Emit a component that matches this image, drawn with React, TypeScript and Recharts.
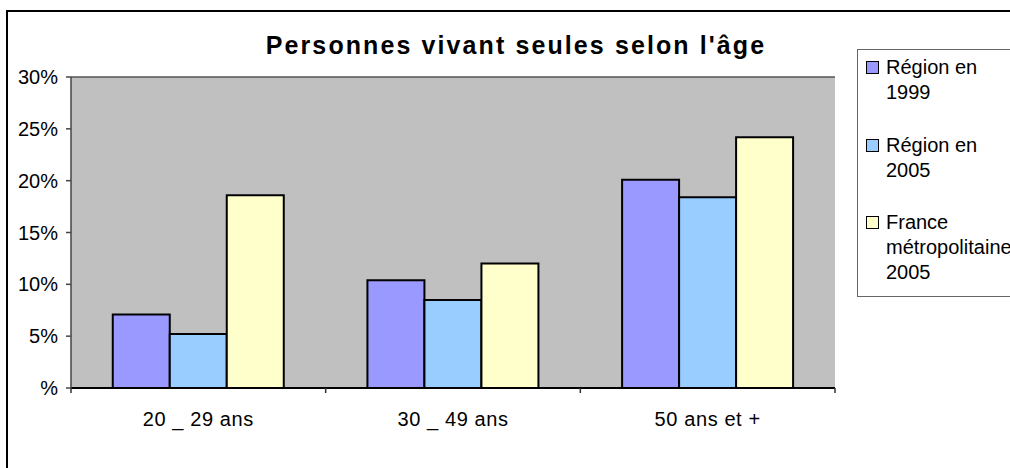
import React from 'react';
import { BarChart, Bar, XAxis, YAxis, CartesianGrid, Legend } from 'recharts';

const categories = ['20 _ 29 ans', '30 _ 49 ans', '50 ans et +'];
const region1999 = [7.1, 10.4, 20.1];
const region2005 = [5.2, 8.5, 18.4];
const france2005 = [18.6, 12.0, 24.2];
const yTicks = [0, 5, 10, 15, 20, 25, 30];

const seriesNames = ['Région en 1999', 'Région en 2005', 'France métropolitaine 2005'];
const seriesColors = ['#9999FF', '#99CCFF', '#FFFFCC'];

const data = categories.map((name, i) => ({
  name,
  r1999: region1999[i],
  r2005: region2005[i],
  fr2005: france2005[i],
}));

const FONT = 'Arial, "Liberation Sans", sans-serif';

const CategoryTick = (props: any) => {
  const { x, y, payload, index, visibleTicksCount } = props;
  const half = payload.offset || 0;
  const isLast = index === visibleTicksCount - 1;
  return (
    <g>
      <line x1={x - half} x2={x - half} y1={y - 5} y2={y} stroke="#333" strokeWidth={1.5} />
      {isLast && <line x1={x + half} x2={x + half} y1={y - 5} y2={y} stroke="#333" strokeWidth={1.5} />}
      <text x={x} y={y + 33} textAnchor="middle" fontSize={20} fontFamily={FONT} fill="#000" letterSpacing={0.6}>
        {payload.value}
      </text>
    </g>
  );
};

const LegendBox = (props: any) => {
  // keep series order instead of the alphabetical default
  const items = [...(props.payload || [])].sort(
    (a: any, b: any) => seriesNames.indexOf(a.value) - seriesNames.indexOf(b.value)
  );
  return (
    <div style={{ border: '1.5px solid #666', height: 248, width: 170, boxSizing: 'border-box', paddingTop: 5, fontFamily: FONT }}>
      {items.map((entry: any) => (
        <div key={entry.value} style={{ display: 'flex', alignItems: 'flex-start', marginLeft: 8, height: 77.5 }}>
          <span style={{ width: 11, height: 11, marginTop: 6, border: '1.5px solid #000', background: entry.color, flexShrink: 0 }} />
          <span style={{ width: 110, marginLeft: 7, fontSize: 20, lineHeight: '25px', color: '#000', whiteSpace: 'normal' }}>
            {entry.value}
          </span>
        </div>
      ))}
    </div>
  );
};

export default function App() {
  return (
    <div style={{ position: 'absolute', left: 0, top: 0, width: 1010, height: 468, overflow: 'hidden', background: '#fff' }}>
      <div style={{ position: 'absolute', left: 6, top: 10, width: 1100, height: 500, border: '2px solid #000' }} />
      <div style={{ position: 'absolute', left: 0, top: 31, width: 1032, textAlign: 'center', fontFamily: FONT, fontWeight: 'bold', fontSize: 25, letterSpacing: 2.1, color: '#000' }}>
        Personnes vivant seules selon l'âge
      </div>
      <div style={{ position: 'absolute', left: 0, top: 0 }}>
        <BarChart
          width={1010}
          height={468}
          data={data}
          margin={{ top: 77, right: 175, bottom: 50, left: 0 }}
          barCategoryGap="16.4%"
          barGap={0}
        >
          <CartesianGrid vertical={false} fill="#C0C0C0" stroke="#555" strokeWidth={1.5} />
          <XAxis
            dataKey="name"
            height={30}
            stroke="#000"
            strokeWidth={2}
            tickLine={false}
            tickSize={5}
            tickMargin={0}
            tick={<CategoryTick />}
            interval={0}
          />
          <YAxis
            yAxisId="left"
            width={71}
            domain={[0, 30]}
            ticks={yTicks}
            stroke="#444"
            strokeWidth={1.5}
            tickSize={5}
            tickMargin={8}
            tick={{ fontSize: 20, fontFamily: FONT, fill: '#000' }}
            tickFormatter={(v: number) => (v === 0 ? '%' : `${v}%`)}
          />
          <YAxis yAxisId="right" orientation="right" width={0} domain={[0, 30]} ticks={yTicks} tick={false} tickLine={false} stroke="#777" strokeWidth={1.5} />
          <Legend
            layout="vertical"
            align="center"
            verticalAlign="middle"
            wrapperStyle={{ left: 857, top: 49, width: 170 }}
            content={<LegendBox />}
          />
          <Bar yAxisId="left" dataKey="r1999" name={seriesNames[0]} fill={seriesColors[0]} stroke="#000" strokeWidth={2} isAnimationActive={false} />
          <Bar yAxisId="left" dataKey="r2005" name={seriesNames[1]} fill={seriesColors[1]} stroke="#000" strokeWidth={2} isAnimationActive={false} />
          <Bar yAxisId="left" dataKey="fr2005" name={seriesNames[2]} fill={seriesColors[2]} stroke="#000" strokeWidth={2} isAnimationActive={false} />
        </BarChart>
      </div>
    </div>
  );
}
